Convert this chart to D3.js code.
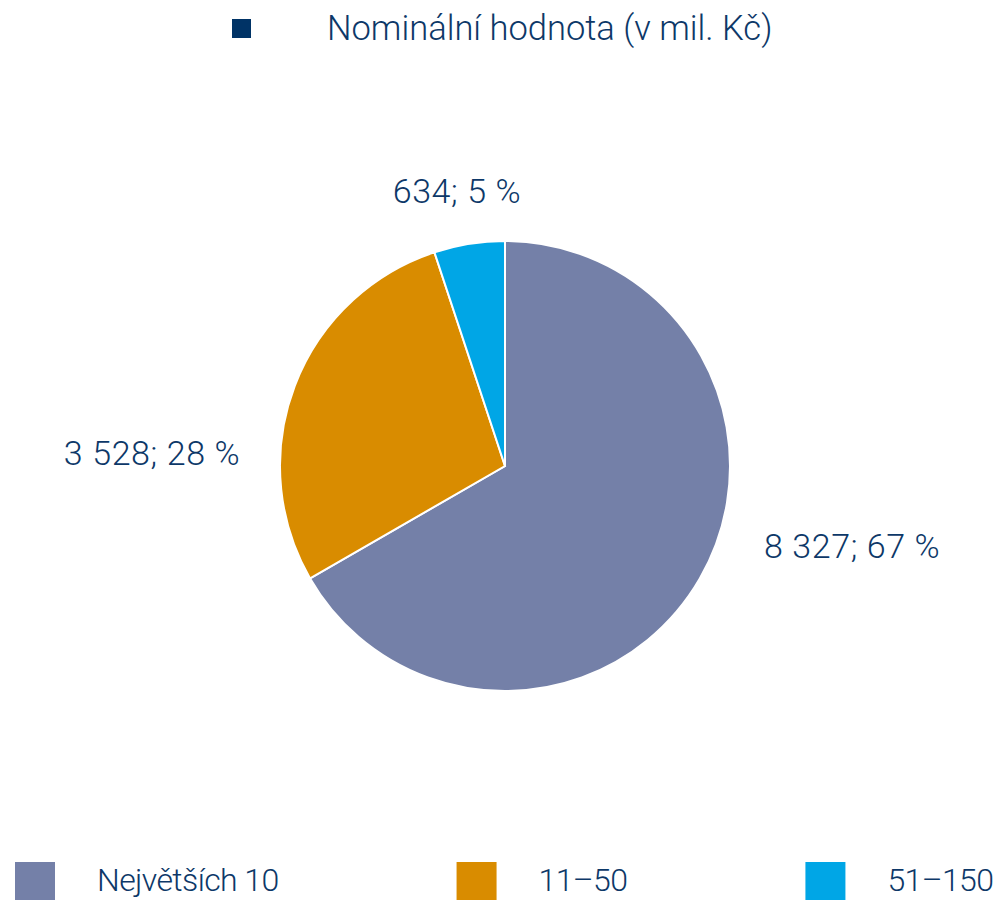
<!DOCTYPE html>
<html>
<head>
<meta charset="utf-8">
<script src="https://cdn.jsdelivr.net/npm/d3@7"></script>
<style>
  body { margin: 0; background: #fff; }
  svg text { font-family: Roboto, "Liberation Sans", sans-serif; font-weight: 300; fill: #0d3868; }
</style>
</head>
<body>
<svg width="994" height="900"></svg>
<script>
const categories = ['Největších 10', '11–50', '51–150'];
const values = [8327, 3528, 634];
const percents = [67, 28, 5];
const colors = ['#7480a8', '#d98c00', '#00a6e6'];
const title = 'Nominální hodnota (v mil. Kč)';

const svg = d3.select('svg');
const cx = 505, cy = 466, radius = 225;

const fmt = d3.formatLocale({ thousands: ' ', grouping: [3], decimal: ',', currency: ['', ''] }).format(',');

// title legend
svg.append('rect')
  .attr('x', 232).attr('y', 19).attr('width', 19).attr('height', 19)
  .attr('fill', '#003366');
svg.append('text')
  .attr('x', 327).attr('y', 40)
  .attr('font-size', 34.5)
  .text(title);

const pie = d3.pie().sort(null).value(d => d)(values);
const arc = d3.arc().innerRadius(0).outerRadius(radius);

const chart = svg.append('g')
  .attr('transform', `translate(${cx}, ${cy})`);

chart.selectAll('path')
  .data(pie)
  .enter()
  .append('path')
  .attr('d', arc)
  .attr('fill', (d, i) => colors[i])
  .attr('stroke', '#fff')
  .attr('stroke-width', 2);

// labels sit outside the pie, nudged from the slice centroid
const labelArc = d3.arc().innerRadius(radius + 65).outerRadius(radius + 65);
const labelOffsets = [[96, -53], [-82, 102], [-2, 23]];
chart.selectAll('text.value')
  .data(pie)
  .enter()
  .append('text')
  .attr('class', 'value')
  .attr('text-anchor', 'middle')
  .attr('font-size', 34)
  .attr('letter-spacing', 0.6)
  .attr('x', (d, i) => labelArc.centroid(d)[0] + labelOffsets[i][0])
  .attr('y', (d, i) => labelArc.centroid(d)[1] + labelOffsets[i][1])
  .text((d, i) => `${fmt(values[i])}; ${percents[i]} %`);

// bottom legend, items flow left to right
const legend = svg.selectAll('g.legend')
  .data(categories)
  .enter()
  .append('g')
  .attr('class', 'legend');
legend.append('rect')
  .attr('width', 40).attr('height', 38)
  .attr('fill', (d, i) => colors[i]);
legend.append('text')
  .attr('x', 82).attr('y', 29)
  .attr('font-size', 32)
  .attr('letter-spacing', -0.6)
  .text(d => d);

let lx = 15;
legend.each(function () {
  const g = d3.select(this);
  g.attr('transform', `translate(${lx}, 862)`);
  lx += 82 + g.select('text').node().getComputedTextLength() + 178;
});
</script>
</body>
</html>
